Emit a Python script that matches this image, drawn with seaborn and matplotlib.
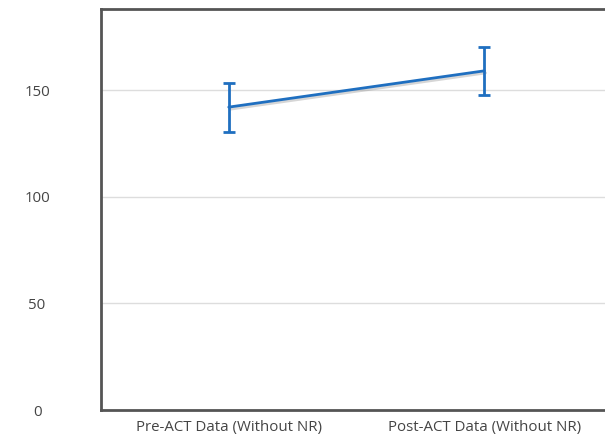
import numpy as np
import pandas as pd
import matplotlib.pyplot as plt
import matplotlib.patheffects as pe
import seaborn as sns

labels = ['Pre-ACT Data (Without NR)', 'Post-ACT Data (Without NR)']
means = [142.0, 159.0]
errs = [11.5, 11.3]
yticks = [0, 50, 100, 150]

df = pd.DataFrame({'group': labels, 'score': means})

sns.set_style('white')
plt.rcParams['font.family'] = ['Open Sans', 'DejaVu Sans']

fig = plt.figure(figsize=(6.05, 4.41), dpi=100)
ax = fig.add_axes([101 / 605, 31 / 441, 511 / 605, 401 / 441])

blue = '#1f6fc0'
shadow = [pe.SimpleLineShadow(offset=(1, -1.5), shadow_color='#999999', alpha=0.4), pe.Normal()]

sns.lineplot(data=df, x='group', y='score', color=blue, linewidth=2, ax=ax,
             sort=False, path_effects=shadow)
ax.errorbar(np.arange(len(labels)), means, yerr=errs, fmt='none', ecolor=blue,
            elinewidth=2, capsize=4.3, capthick=2)

ax.set_xlim(-0.5, 1.5)
ax.set_ylim(0, 188)
ax.set_yticks(yticks)
ax.set_yticklabels([str(t) for t in yticks])
ax.set_xlabel('')
ax.set_ylabel('')

ax.grid(axis='y', color='#dddddd', linewidth=1)
ax.set_axisbelow(True)
for side in ['left', 'top', 'bottom', 'right']:
    ax.spines[side].set_color('#555555')
    ax.spines[side].set_linewidth(2)

ax.tick_params(axis='y', length=0, pad=46, labelsize=10.8, labelcolor='#444444')
ax.tick_params(axis='x', length=0, pad=7, labelsize=10.8, labelcolor='#444444')
for t in ax.get_yticklabels():
    t.set_horizontalalignment('center')

fig.savefig('out.png', dpi=100)
